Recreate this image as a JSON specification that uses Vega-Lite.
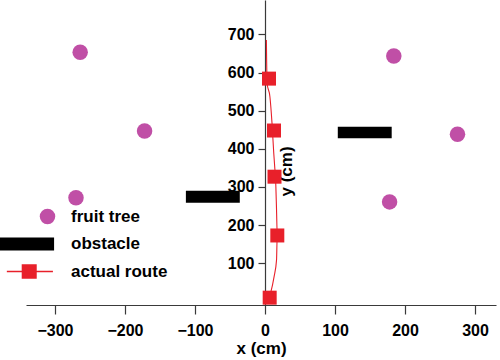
{
  "$schema": "https://vega.github.io/schema/vega-lite/v6.json",
  "width": 470,
  "height": 305,
  "autosize": {"type": "none"},
  "padding": {"left": 26, "top": 0, "right": 4, "bottom": 55},
  "background": "white",
  "config": {
    "view": {"stroke": null},
    "font": "Liberation Sans",
    "axis": {
      "grid": false,
      "domainColor": "#3a3a3a",
      "tickColor": "#3a3a3a",
      "domainWidth": 1.2,
      "tickWidth": 1.2,
      "labelFont": "Liberation Sans",
      "labelFontWeight": "bold",
      "labelFontSize": 16,
      "labelColor": "#000000",
      "titleFont": "Liberation Sans",
      "titleFontWeight": "bold",
      "titleFontSize": 17,
      "titleColor": "#000000"
    }
  },
  "datasets": {
    "trees": [
      {"type": "fruit tree", "x": -264, "y": 653},
      {"type": "fruit tree", "x": -172, "y": 447},
      {"type": "fruit tree", "x": -270, "y": 272},
      {"type": "fruit tree", "x": 184, "y": 643},
      {"type": "fruit tree", "x": 275, "y": 438},
      {"type": "fruit tree", "x": 178, "y": 261}
    ],
    "obstacles": [
      {"type": "obstacle", "x": -113, "x2": -36, "y": 259, "y2": 290},
      {"type": "obstacle", "x": 104, "x2": 181, "y": 428, "y2": 458}
    ],
    "routeLine": [
      {"type": "actual route", "i": 1, "x": 2, "y": 685},
      {"type": "actual route", "i": 2, "x": 3, "y": 572},
      {"type": "actual route", "i": 3, "x": 7, "y": 537},
      {"type": "actual route", "i": 4, "x": 10, "y": 468},
      {"type": "actual route", "i": 5, "x": 12.5, "y": 389},
      {"type": "actual route", "i": 6, "x": 14, "y": 350},
      {"type": "actual route", "i": 7, "x": 15, "y": 327},
      {"type": "actual route", "i": 8, "x": 16.5, "y": 240},
      {"type": "actual route", "i": 9, "x": 17.5, "y": 174},
      {"type": "actual route", "i": 10, "x": 16.5, "y": 109},
      {"type": "actual route", "i": 11, "x": 13, "y": 65},
      {"type": "actual route", "i": 12, "x": 8, "y": 22},
      {"type": "actual route", "i": 13, "x": 5, "y": 5}
    ],
    "routeSquares": [
      {"type": "actual route", "x": 5.7, "y": 584},
      {"type": "actual route", "x": 12.9, "y": 448},
      {"type": "actual route", "x": 13.6, "y": 327},
      {"type": "actual route", "x": 17.6, "y": 173},
      {"type": "actual route", "x": 6.7, "y": 10}
    ]
  },
  "encoding": {
    "x": {
      "field": "x",
      "type": "quantitative",
      "scale": {"domain": [-341.4, 330], "nice": false, "zero": false},
      "axis": {
        "values": [-300, -200, -100, 0, 100, 200, 300],
        "format": "d",
        "tickSize": 9,
        "labelPadding": 8,
        "title": "x (cm)",
        "titlePadding": 2
      }
    },
    "y": {
      "field": "y",
      "type": "quantitative",
      "scale": {"domain": [-9.2, 790], "nice": false, "zero": false},
      "axis": {
        "values": [100, 200, 300, 400, 500, 600, 700],
        "format": "d",
        "offset": -239,
        "tickSize": 7,
        "labelPadding": 4,
        "title": "y (cm)",
        "titleX": 21,
        "titleY": 171,
        "titleAngle": 270,
        "titleAlign": "center",
        "titleBaseline": "middle"
      }
    }
  },
  "layer": [
    {
      "data": {"name": "obstacles"},
      "mark": {"type": "rect"},
      "encoding": {
        "x2": {"field": "x2"},
        "y2": {"field": "y2"},
        "color": {
          "field": "type",
          "type": "nominal",
          "scale": {
            "domain": ["fruit tree", "obstacle", "actual route"],
            "range": ["#c04fa6", "#000000", "#e8202a"]
          },
          "legend": {
            "title": null,
            "orient": "none",
            "legendX": 13,
            "legendY": 208,
            "padding": 0,
            "symbolSize": 225,
            "symbolStrokeWidth": 0,
            "labelOffset": 15,
            "rowPadding": 9.5,
            "labelFont": "Liberation Sans",
            "labelFontWeight": "bold",
            "labelFontSize": 17,
            "labelColor": "#000000",
            "encode": {
              "symbols": {
                "update": {
                  "shape": {"signal": "datum.value === 'obstacle' ? 'M-6.35,-0.85H0.85V0.85H-6.35Z' : datum.value === 'actual route' ? 'M-5.25,-0.09H0.7V0.09H-5.25ZM-3.33,-0.95H-1.39V0.95H-3.33Z' : 'circle'"},
                  "fill": {"signal": "datum.value === 'obstacle' ? '#000000' : datum.value === 'actual route' ? '#e8202a' : '#c04fa6'"},
                  "stroke": {"value": null},
                  "strokeWidth": {"value": 0},
                  "fillOpacity": {"value": 1},
                  "size": {"value": 240},
                  "opacity": {"value": 1}
                }
              }
            }
          }
        }
      }
    },
    {
      "data": {"name": "trees"},
      "mark": {"type": "point", "shape": "circle", "filled": true, "size": 240, "opacity": 1},
      "encoding": {
        "color": {"field": "type", "type": "nominal"}
      }
    },
    {
      "data": {"name": "routeLine"},
      "mark": {"type": "line", "strokeWidth": 1.1, "interpolate": "monotone"},
      "encoding": {
        "order": {"field": "i", "type": "quantitative"},
        "color": {"field": "type", "type": "nominal"}
      }
    },
    {
      "data": {"name": "routeSquares"},
      "mark": {"type": "point", "shape": "square", "filled": true, "size": 196, "opacity": 1},
      "encoding": {
        "color": {"field": "type", "type": "nominal"}
      }
    }
  ]
}
